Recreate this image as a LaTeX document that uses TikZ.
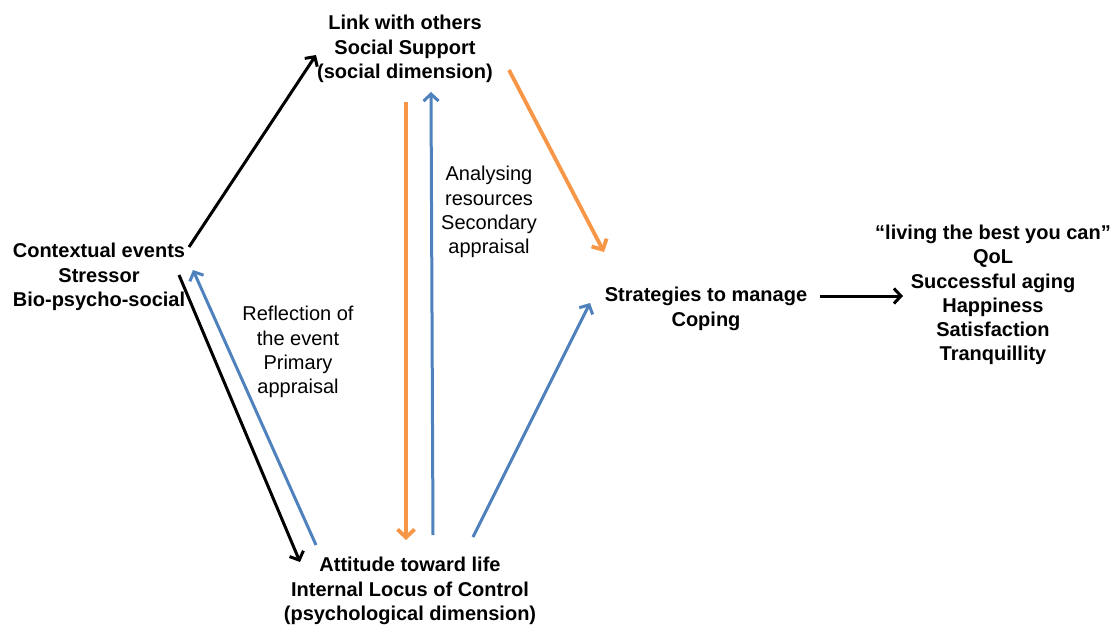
\documentclass[tikz,border=0pt]{standalone}
\usepackage{fontspec}
\setmainfont{Liberation Sans}
\usetikzlibrary{arrows.meta}
\definecolor{cblue}{RGB}{79,129,189}
\definecolor{corange}{RGB}{247,150,70}
\begin{document}
\begin{tikzpicture}[x=1bp,y=-1bp,
  lbl/.style={align=center,inner sep=0pt,font=\fontsize{20bp}{24.3bp}\selectfont},
  blbl/.style={lbl,font=\fontsize{20bp}{24.3bp}\selectfont\bfseries},
  conn/.style={line width=3bp,-{Straight Barb[length=7bp,width=15bp,line width=3bp]}},
  blk/.style={conn,black},
  blu/.style={conn,cblue},
  org/.style={conn,corange,line width=3.8bp,-{Straight Barb[length=8bp,width=17bp,line width=3.8bp]}}]
\useasboundingbox (0,0) rectangle (1113,626);

% text blocks
\node[blbl] (ctx) at (99,277) {Contextual events\\Stressor\\Bio-psycho-social};
\node[blbl] (soc) at (405,49) {Link with others\\Social Support\\(social dimension)};
\node[blbl] (att) at (410,591) {Attitude toward life\\Internal Locus of Control\\(psychological dimension)};
\node[blbl] (cop) at (706,309) {Strategies to manage\\Coping};
\node[blbl] (qol) at (993,295) {“living the best you can”\\QoL\\Successful aging\\Happiness\\Satisfaction\\Tranquillity};
\node[lbl] (prim) at (298,352) {Reflection of\\the event\\Primary\\appraisal};
\node[lbl] (sec) at (489,212) {Analysing\\resources\\Secondary\\appraisal};

% connector end points
\coordinate (ctxA) at (189,247);
\coordinate (ctxB) at (179,275);
\coordinate (ctxC) at (193,270);
\coordinate (socA) at (316,55);
\coordinate (socB) at (406,102);
\coordinate (socC) at (431,92);
\coordinate (socD) at (509,70);
\coordinate (attA) at (300,562);
\coordinate (attB) at (316,545);
\coordinate (attC) at (406,540);
\coordinate (attD) at (433,535);
\coordinate (attE) at (473,537);
\coordinate (copA) at (604,252);
\coordinate (copB) at (590,303);
\coordinate (copC) at (820,296);
\coordinate (qolA) at (903,296);

% arrows
\draw[blk] (ctxA) -- (socA);
\draw[blk] (ctxB) -- (attA);
\draw[blu] (attB) -- (ctxC);
\draw[org] (socB) -- (attC);
\draw[blu] (attD) -- (socC);
\draw[org] (socD) -- (copA);
\draw[blu] (attE) -- (copB);
\draw[blk] (copC) -- (qolA);
\end{tikzpicture}
\end{document}
